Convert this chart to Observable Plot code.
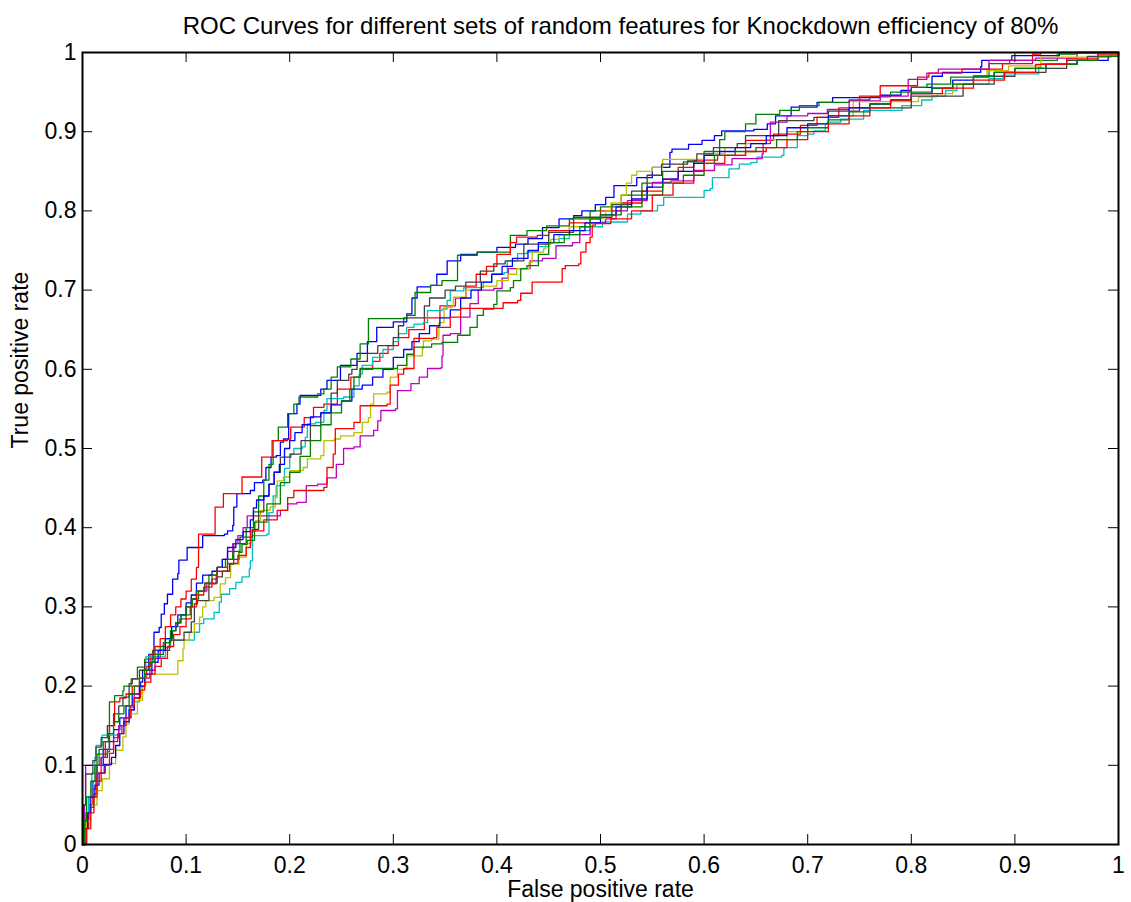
<!DOCTYPE html>
<html><head><meta charset="utf-8">
<script src="https://cdn.jsdelivr.net/npm/d3@7"></script>
<script src="https://cdn.jsdelivr.net/npm/@observablehq/plot@0.6"></script>
<style>body{margin:0;background:#fff}</style>
</head><body><div id="chart"></div>
<script>
const titleText = "ROC Curves for different sets of random features for Knockdown efficiency of 80%";
const xLabelText = "False positive rate";
const yLabelText = "True positive rate";
const xTicks = [0,0.1,0.2,0.3,0.4,0.5,0.6,0.7,0.8,0.9,1];
const yTicks = [0,0.1,0.2,0.3,0.4,0.5,0.6,0.7,0.8,0.9,1];
const tickLabels = ["0","0.1","0.2","0.3","0.4","0.5","0.6","0.7","0.8","0.9","1"];

// [false positive rate, true positive rate]
const blue1 = [[0,0],[0.003,0.03],[0.006,0.06],[0.01,0.08],[0.014,0.1],[0.02,0.12],[0.026,0.13],[0.03,0.145],[0.036,0.16],[0.042,0.175],[0.048,0.19],[0.056,0.205],[0.058,0.22],[0.064,0.24],[0.069,0.268],[0.074,0.274],[0.076,0.291],[0.079,0.304],[0.082,0.316],[0.087,0.335],[0.092,0.342],[0.093,0.359],[0.101,0.375],[0.116,0.39],[0.137,0.392],[0.14,0.396],[0.145,0.403],[0.146,0.426],[0.149,0.443],[0.162,0.447],[0.166,0.457],[0.174,0.46],[0.177,0.476],[0.182,0.489],[0.187,0.491],[0.191,0.508],[0.194,0.512],[0.199,0.544],[0.207,0.556],[0.21,0.567],[0.23,0.575],[0.236,0.586],[0.249,0.605],[0.265,0.62],[0.275,0.635],[0.284,0.653],[0.3,0.66],[0.313,0.67],[0.318,0.69],[0.323,0.704],[0.336,0.706],[0.342,0.72],[0.352,0.737],[0.365,0.745],[0.381,0.748],[0.4,0.754],[0.418,0.758],[0.43,0.765],[0.444,0.779],[0.46,0.79],[0.474,0.794],[0.482,0.8],[0.495,0.808],[0.505,0.817],[0.513,0.832],[0.535,0.842],[0.55,0.855],[0.567,0.874],[0.569,0.878],[0.585,0.884],[0.598,0.889],[0.61,0.895],[0.617,0.901],[0.648,0.903],[0.661,0.91],[0.669,0.92],[0.684,0.931],[0.709,0.937],[0.724,0.943],[0.77,0.946],[0.79,0.952],[0.8,0.956],[0.82,0.97],[0.83,0.975],[0.867,0.982],[0.868,0.99],[0.897,0.996],[0.943,1],[1,1]];
const green1 = [[0,0],[0.002,0.03],[0.004,0.04],[0.006,0.047],[0.011,0.064],[0.014,0.114],[0.024,0.117],[0.026,0.18],[0.031,0.188],[0.039,0.194],[0.04,0.2],[0.047,0.209],[0.053,0.224],[0.06,0.234],[0.068,0.245],[0.075,0.25],[0.08,0.26],[0.087,0.27],[0.09,0.28],[0.094,0.285],[0.1,0.29],[0.104,0.3],[0.106,0.31],[0.112,0.32],[0.118,0.33],[0.122,0.34],[0.13,0.35],[0.138,0.36],[0.145,0.37],[0.152,0.38],[0.158,0.4],[0.165,0.42],[0.17,0.44],[0.175,0.46],[0.18,0.48],[0.184,0.51],[0.189,0.527],[0.198,0.544],[0.204,0.556],[0.209,0.565],[0.227,0.569],[0.233,0.575],[0.24,0.59],[0.246,0.603],[0.259,0.613],[0.268,0.632],[0.276,0.664],[0.313,0.668],[0.321,0.697],[0.336,0.706],[0.347,0.712],[0.362,0.744],[0.381,0.748],[0.413,0.769],[0.429,0.775],[0.448,0.781],[0.47,0.79],[0.49,0.8],[0.5,0.805],[0.52,0.82],[0.54,0.835],[0.56,0.85],[0.58,0.862],[0.6,0.875],[0.615,0.89],[0.62,0.9],[0.64,0.91],[0.65,0.922],[0.673,0.927],[0.692,0.933],[0.711,0.937],[0.74,0.94],[0.76,0.944],[0.78,0.95],[0.8,0.956],[0.815,0.96],[0.838,0.969],[0.875,0.986],[0.895,0.99],[0.941,0.998],[0.959,1],[1,1]];
const red1 = [[0,0],[0.003,0.02],[0.006,0.05],[0.01,0.07],[0.013,0.09],[0.018,0.11],[0.022,0.13],[0.026,0.15],[0.031,0.18],[0.036,0.185],[0.042,0.19],[0.048,0.2],[0.055,0.21],[0.062,0.225],[0.066,0.24],[0.07,0.25],[0.075,0.26],[0.08,0.275],[0.085,0.29],[0.09,0.3],[0.095,0.31],[0.1,0.32],[0.105,0.335],[0.11,0.35],[0.112,0.392],[0.128,0.426],[0.136,0.443],[0.154,0.464],[0.173,0.489],[0.183,0.51],[0.198,0.512],[0.201,0.527],[0.214,0.539],[0.223,0.552],[0.233,0.556],[0.246,0.575],[0.259,0.59],[0.268,0.6],[0.28,0.61],[0.287,0.62],[0.295,0.63],[0.305,0.64],[0.315,0.65],[0.33,0.665],[0.345,0.68],[0.36,0.69],[0.37,0.705],[0.38,0.72],[0.39,0.73],[0.4,0.745],[0.413,0.76],[0.419,0.767],[0.439,0.769],[0.45,0.775],[0.47,0.785],[0.49,0.79],[0.5,0.8],[0.52,0.81],[0.54,0.825],[0.56,0.84],[0.575,0.855],[0.59,0.864],[0.613,0.87],[0.64,0.889],[0.667,0.897],[0.693,0.908],[0.709,0.918],[0.73,0.93],[0.75,0.945],[0.77,0.958],[0.806,0.969],[0.817,0.974],[0.849,0.979],[0.888,0.986],[0.917,0.998],[0.925,1],[1,1]];
const cyan1 = [[0,0],[0.003,0.04],[0.006,0.06],[0.009,0.09],[0.012,0.11],[0.013,0.125],[0.019,0.138],[0.035,0.15],[0.04,0.16],[0.045,0.173],[0.05,0.18],[0.055,0.186],[0.056,0.199],[0.06,0.22],[0.061,0.237],[0.08,0.249],[0.085,0.258],[0.108,0.268],[0.113,0.279],[0.117,0.285],[0.127,0.293],[0.132,0.306],[0.134,0.316],[0.142,0.323],[0.148,0.331],[0.154,0.338],[0.161,0.348],[0.162,0.358],[0.164,0.39],[0.178,0.392],[0.18,0.419],[0.184,0.44],[0.187,0.453],[0.195,0.475],[0.2,0.493],[0.204,0.5],[0.212,0.502],[0.215,0.514],[0.217,0.531],[0.225,0.533],[0.233,0.548],[0.236,0.563],[0.252,0.565],[0.262,0.579],[0.267,0.594],[0.27,0.605],[0.28,0.615],[0.29,0.625],[0.3,0.635],[0.305,0.645],[0.313,0.653],[0.32,0.657],[0.329,0.659],[0.333,0.674],[0.347,0.676],[0.352,0.687],[0.355,0.699],[0.368,0.703],[0.387,0.71],[0.395,0.72],[0.407,0.722],[0.41,0.737],[0.42,0.746],[0.429,0.748],[0.44,0.755],[0.45,0.76],[0.46,0.765],[0.47,0.77],[0.48,0.775],[0.49,0.78],[0.502,0.786],[0.526,0.796],[0.539,0.8],[0.555,0.807],[0.561,0.817],[0.6,0.826],[0.606,0.828],[0.608,0.842],[0.624,0.853],[0.634,0.859],[0.645,0.861],[0.651,0.868],[0.675,0.87],[0.677,0.88],[0.69,0.895],[0.7,0.897],[0.706,0.901],[0.717,0.91],[0.719,0.912],[0.732,0.916],[0.754,0.927],[0.791,0.933],[0.81,0.94],[0.82,0.945],[0.833,0.952],[0.844,0.96],[0.875,0.967],[0.889,0.973],[0.923,0.981],[0.925,0.986],[0.96,0.99],[0.98,0.995],[1,1]];
const magenta1 = [[0,0],[0.002,0.05],[0.003,0.1],[0.018,0.11],[0.024,0.12],[0.03,0.135],[0.035,0.15],[0.04,0.16],[0.047,0.17],[0.05,0.19],[0.055,0.2],[0.06,0.21],[0.065,0.22],[0.07,0.235],[0.075,0.245],[0.08,0.255],[0.085,0.27],[0.09,0.28],[0.095,0.29],[0.1,0.3],[0.105,0.31],[0.11,0.32],[0.12,0.33],[0.13,0.35],[0.135,0.36],[0.14,0.37],[0.145,0.38],[0.15,0.39],[0.155,0.4],[0.159,0.415],[0.191,0.422],[0.198,0.43],[0.207,0.432],[0.216,0.453],[0.227,0.455],[0.236,0.463],[0.245,0.48],[0.252,0.5],[0.262,0.502],[0.268,0.516],[0.281,0.523],[0.285,0.535],[0.288,0.548],[0.302,0.55],[0.304,0.573],[0.317,0.582],[0.325,0.59],[0.333,0.601],[0.346,0.602],[0.347,0.617],[0.348,0.643],[0.355,0.645],[0.365,0.666],[0.374,0.683],[0.382,0.7],[0.397,0.702],[0.405,0.715],[0.411,0.727],[0.432,0.737],[0.444,0.74],[0.457,0.756],[0.473,0.76],[0.48,0.77],[0.49,0.785],[0.505,0.79],[0.515,0.8],[0.526,0.813],[0.545,0.83],[0.55,0.836],[0.568,0.838],[0.59,0.851],[0.61,0.858],[0.627,0.866],[0.656,0.872],[0.657,0.885],[0.664,0.912],[0.68,0.92],[0.7,0.923],[0.719,0.928],[0.74,0.939],[0.77,0.945],[0.797,0.966],[0.815,0.974],[0.826,0.979],[0.875,0.99],[0.92,0.993],[0.96,1],[1,1]];
const yellow1 = [[0,0],[0.004,0.03],[0.008,0.05],[0.014,0.068],[0.019,0.083],[0.026,0.102],[0.032,0.119],[0.039,0.136],[0.042,0.152],[0.045,0.165],[0.053,0.182],[0.058,0.2],[0.061,0.215],[0.092,0.232],[0.097,0.247],[0.098,0.258],[0.103,0.268],[0.108,0.279],[0.113,0.287],[0.116,0.3],[0.119,0.308],[0.127,0.312],[0.133,0.329],[0.138,0.337],[0.143,0.354],[0.151,0.363],[0.158,0.38],[0.163,0.395],[0.167,0.409],[0.172,0.422],[0.181,0.426],[0.186,0.438],[0.188,0.459],[0.194,0.464],[0.2,0.472],[0.213,0.476],[0.217,0.487],[0.23,0.491],[0.233,0.51],[0.243,0.512],[0.249,0.516],[0.262,0.52],[0.27,0.533],[0.276,0.539],[0.278,0.556],[0.281,0.569],[0.294,0.571],[0.297,0.59],[0.304,0.6],[0.313,0.617],[0.328,0.626],[0.329,0.636],[0.337,0.638],[0.344,0.659],[0.349,0.678],[0.357,0.68],[0.358,0.691],[0.37,0.7],[0.385,0.705],[0.4,0.712],[0.411,0.72],[0.419,0.727],[0.431,0.735],[0.434,0.748],[0.445,0.752],[0.447,0.758],[0.452,0.764],[0.46,0.77],[0.47,0.78],[0.49,0.79],[0.505,0.8],[0.51,0.81],[0.52,0.82],[0.525,0.835],[0.53,0.845],[0.535,0.85],[0.55,0.855],[0.56,0.865],[0.6,0.872],[0.62,0.88],[0.64,0.885],[0.66,0.89],[0.68,0.9],[0.7,0.91],[0.72,0.92],[0.744,0.938],[0.807,0.944],[0.825,0.948],[0.84,0.96],[0.86,0.97],[0.873,0.977],[0.894,0.983],[0.925,0.994],[0.993,0.998],[1,1]];
const gray1 = [[0,0],[0.001,0.05],[0.003,0.089],[0.01,0.106],[0.013,0.123],[0.018,0.135],[0.024,0.15],[0.03,0.165],[0.035,0.175],[0.039,0.186],[0.045,0.203],[0.048,0.209],[0.055,0.22],[0.06,0.23],[0.068,0.245],[0.084,0.258],[0.098,0.268],[0.105,0.281],[0.108,0.304],[0.111,0.308],[0.122,0.329],[0.129,0.338],[0.135,0.345],[0.142,0.354],[0.146,0.38],[0.152,0.388],[0.164,0.398],[0.17,0.42],[0.175,0.44],[0.18,0.455],[0.185,0.47],[0.191,0.489],[0.201,0.493],[0.211,0.51],[0.22,0.529],[0.23,0.545],[0.24,0.57],[0.246,0.586],[0.257,0.594],[0.26,0.6],[0.265,0.61],[0.275,0.62],[0.285,0.63],[0.3,0.64],[0.305,0.655],[0.31,0.665],[0.33,0.68],[0.335,0.69],[0.35,0.7],[0.36,0.705],[0.37,0.71],[0.384,0.724],[0.397,0.733],[0.408,0.737],[0.426,0.758],[0.45,0.773],[0.474,0.792],[0.511,0.808],[0.53,0.825],[0.545,0.845],[0.559,0.859],[0.584,0.863],[0.593,0.872],[0.609,0.88],[0.632,0.885],[0.64,0.895],[0.672,0.914],[0.706,0.918],[0.72,0.926],[0.75,0.93],[0.8,0.945],[0.85,0.96],[0.88,0.97],[0.9,0.975],[0.93,0.98],[0.95,0.99],[0.97,0.995],[0.98,1],[1,1]];
const blue2 = [[0,0],[0.002,0.02],[0.005,0.04],[0.008,0.06],[0.012,0.075],[0.016,0.09],[0.021,0.101],[0.028,0.11],[0.032,0.125],[0.036,0.14],[0.04,0.155],[0.045,0.17],[0.05,0.185],[0.055,0.2],[0.06,0.215],[0.067,0.23],[0.073,0.245],[0.08,0.26],[0.086,0.275],[0.092,0.29],[0.1,0.305],[0.105,0.315],[0.11,0.33],[0.116,0.34],[0.125,0.345],[0.13,0.35],[0.135,0.36],[0.14,0.375],[0.148,0.385],[0.155,0.395],[0.162,0.41],[0.165,0.425],[0.168,0.435],[0.175,0.44],[0.18,0.455],[0.185,0.47],[0.19,0.48],[0.195,0.5],[0.2,0.51],[0.205,0.52],[0.212,0.53],[0.22,0.54],[0.23,0.545],[0.24,0.555],[0.25,0.56],[0.26,0.575],[0.27,0.58],[0.28,0.59],[0.29,0.6],[0.3,0.615],[0.31,0.625],[0.318,0.635],[0.325,0.645],[0.335,0.655],[0.345,0.665],[0.355,0.675],[0.365,0.69],[0.375,0.7],[0.385,0.71],[0.395,0.72],[0.405,0.73],[0.415,0.74],[0.43,0.75],[0.44,0.76],[0.455,0.77],[0.47,0.775],[0.485,0.785],[0.5,0.795],[0.515,0.805],[0.53,0.815],[0.545,0.83],[0.56,0.84],[0.575,0.85],[0.59,0.86],[0.6,0.87],[0.615,0.875],[0.63,0.88],[0.645,0.885],[0.66,0.895],[0.68,0.905],[0.7,0.91],[0.72,0.92],[0.74,0.93],[0.76,0.935],[0.78,0.94],[0.8,0.948],[0.82,0.955],[0.84,0.965],[0.86,0.97],[0.88,0.975],[0.9,0.98],[0.93,0.985],[0.96,0.99],[0.99,0.995],[1,1]];
const green2 = [[0,0],[0.002,0.03],[0.004,0.06],[0.008,0.08],[0.012,0.1],[0.016,0.12],[0.02,0.13],[0.025,0.14],[0.03,0.155],[0.035,0.165],[0.04,0.175],[0.045,0.19],[0.05,0.2],[0.055,0.21],[0.06,0.22],[0.065,0.23],[0.07,0.24],[0.078,0.255],[0.085,0.27],[0.09,0.28],[0.095,0.29],[0.1,0.3],[0.105,0.31],[0.11,0.32],[0.118,0.33],[0.125,0.34],[0.13,0.35],[0.14,0.36],[0.151,0.369],[0.154,0.379],[0.159,0.384],[0.166,0.407],[0.178,0.43],[0.191,0.457],[0.2,0.47],[0.21,0.49],[0.22,0.51],[0.23,0.53],[0.24,0.545],[0.25,0.56],[0.258,0.575],[0.262,0.59],[0.268,0.601],[0.304,0.605],[0.313,0.619],[0.32,0.628],[0.337,0.632],[0.347,0.634],[0.362,0.643],[0.374,0.653],[0.381,0.668],[0.387,0.676],[0.397,0.682],[0.4,0.699],[0.413,0.703],[0.416,0.712],[0.423,0.727],[0.429,0.731],[0.44,0.745],[0.45,0.76],[0.465,0.77],[0.48,0.78],[0.49,0.79],[0.5,0.795],[0.52,0.805],[0.54,0.82],[0.56,0.835],[0.58,0.845],[0.6,0.86],[0.61,0.87],[0.63,0.875],[0.65,0.88],[0.67,0.89],[0.69,0.9],[0.7,0.905],[0.72,0.915],[0.74,0.925],[0.76,0.935],[0.78,0.94],[0.8,0.95],[0.82,0.955],[0.84,0.96],[0.86,0.97],[0.88,0.975],[0.9,0.98],[0.93,0.985],[0.96,0.99],[0.98,0.995],[1,1]];
const red2 = [[0,0],[0.004,0.02],[0.008,0.04],[0.011,0.06],[0.014,0.08],[0.018,0.09],[0.022,0.1],[0.026,0.115],[0.03,0.13],[0.034,0.14],[0.038,0.15],[0.042,0.16],[0.046,0.175],[0.05,0.185],[0.056,0.195],[0.06,0.205],[0.066,0.215],[0.07,0.225],[0.076,0.235],[0.082,0.25],[0.088,0.265],[0.094,0.275],[0.1,0.285],[0.105,0.3],[0.11,0.315],[0.117,0.325],[0.125,0.335],[0.13,0.345],[0.14,0.355],[0.15,0.365],[0.158,0.375],[0.162,0.396],[0.175,0.41],[0.188,0.422],[0.198,0.438],[0.204,0.447],[0.233,0.451],[0.236,0.476],[0.242,0.493],[0.244,0.525],[0.262,0.533],[0.268,0.554],[0.294,0.556],[0.297,0.58],[0.305,0.594],[0.31,0.601],[0.32,0.628],[0.32,0.639],[0.339,0.64],[0.342,0.653],[0.355,0.666],[0.365,0.677],[0.406,0.684],[0.42,0.687],[0.423,0.696],[0.434,0.71],[0.461,0.71],[0.463,0.727],[0.466,0.731],[0.479,0.733],[0.481,0.748],[0.486,0.76],[0.49,0.767],[0.492,0.782],[0.495,0.784],[0.51,0.79],[0.53,0.8],[0.55,0.82],[0.57,0.835],[0.59,0.85],[0.6,0.86],[0.62,0.87],[0.64,0.875],[0.66,0.88],[0.68,0.89],[0.7,0.9],[0.72,0.91],[0.74,0.92],[0.76,0.93],[0.78,0.94],[0.8,0.948],[0.83,0.955],[0.86,0.965],[0.89,0.975],[0.92,0.985],[0.95,0.992],[0.98,0.997],[1,1]];

const seriesData = [blue1, green1, red1, cyan1, magenta1, yellow1, gray1, blue2, green2, red2];
const seriesColors = ["#0000ff","#008000","#ff0000","#00bfbf","#bf00bf","#bfbf00","#404040","#0000ff","#008000","#ff0000"];

const W = 1131, H = 902, ML = 82, MR = 13, MT = 52, MB = 58;
const FW = W - ML - MR, FH = H - MT - MB;
const TICK = 10;
const FONT = "Liberation Sans, Arial, Helvetica, sans-serif";
const lab = (ticks) => (d) => tickLabels[ticks.indexOf(d)];

const marks = [];
seriesData.forEach((pts, i) => {
  marks.push(Plot.line(pts, {x: d => d[0], y: d => d[1], curve: "step-after", stroke: seriesColors[i], strokeWidth: 1.3}));
});
marks.push(
  Plot.ruleX(xTicks, {x: d => d, insetTop: FH - TICK, stroke: "black", strokeWidth: 1}),
  Plot.ruleX(xTicks, {x: d => d, insetBottom: FH - TICK, stroke: "black", strokeWidth: 1}),
  Plot.ruleY(yTicks, {y: d => d, insetRight: FW - TICK, stroke: "black", strokeWidth: 1}),
  Plot.ruleY(yTicks, {y: d => d, insetLeft: FW - TICK, stroke: "black", strokeWidth: 1}),
  Plot.frame({stroke: "black", strokeWidth: 2}),
  Plot.axisX(xTicks, {tickSize: 0, tickPadding: 12, tickFormat: lab(xTicks), fontSize: 23, label: null, fill: "black"}),
  Plot.axisY(yTicks, {tickSize: 0, tickPadding: 6, tickFormat: lab(yTicks), fontSize: 23, label: null, fill: "black"}),
  Plot.text([titleText], {text: d => d, frameAnchor: "top", dx: 20, dy: -26, lineAnchor: "middle", fontSize: 24, fill: "black"}),
  Plot.text([xLabelText], {text: d => d, frameAnchor: "bottom", dy: 45, lineAnchor: "middle", fontSize: 23, fill: "black"}),
  Plot.text([yLabelText], {text: d => d, frameAnchor: "left", dx: -62, rotate: -90, lineAnchor: "middle", fontSize: 23, fill: "black"})
);

const chart = Plot.plot({
  width: W, height: H,
  marginLeft: ML, marginRight: MR, marginTop: MT, marginBottom: MB,
  x: {domain: [0, 1]},
  y: {domain: [0, 1]},
  style: {fontFamily: FONT, fontSize: "23px", background: "white", color: "black"},
  marks
});
document.getElementById("chart").appendChild(chart);
</script>
</body></html>
